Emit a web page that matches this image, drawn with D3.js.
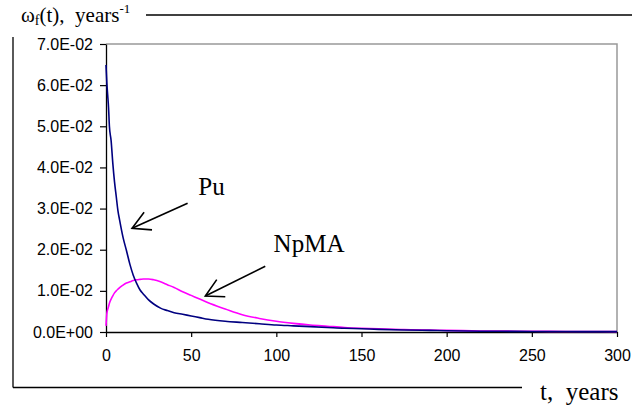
<!DOCTYPE html>
<html>
<head>
<meta charset="utf-8">
<script src="https://cdn.jsdelivr.net/npm/d3@7"></script>
<style>
  html, body { margin: 0; padding: 0; background: #fff; }
  svg { display: block; }
</style>
</head>
<body>
<svg id="chart" width="632" height="410"></svg>
<script>
// ---- data (values in units of 1e-2 per year) ----
const tYears = [0, 0.5, 1, 1.5, 2, 3, 4, 5, 6, 7, 8, 10, 12, 14, 16, 18, 20, 22, 25, 28, 32, 36, 40, 45, 50, 55, 60, 70, 80, 90, 100, 110, 120, 130, 140, 150, 160, 175, 190, 200, 220, 240, 260, 280, 300];
const puValues = [6.49, 6.05, 5.75, 5.45, 5.0, 4.65, 4.1, 3.65, 3.3, 2.95, 2.72, 2.3, 1.98, 1.65, 1.38, 1.18, 1.02, 0.92, 0.78, 0.68, 0.58, 0.52, 0.47, 0.43, 0.39, 0.35, 0.31, 0.26, 0.23, 0.2, 0.17, 0.15, 0.13, 0.11, 0.09, 0.08, 0.065, 0.05, 0.04, 0.03, 0.02, 0.015, 0.012, 0.01, 0.01];
const npmaValues = [0.15, 0.45, 0.55, 0.62, 0.7, 0.8, 0.88, 0.95, 1.0, 1.04, 1.08, 1.14, 1.19, 1.22, 1.25, 1.27, 1.28, 1.29, 1.29, 1.27, 1.22, 1.15, 1.08, 0.98, 0.89, 0.8, 0.71, 0.56, 0.42, 0.33, 0.26, 0.21, 0.17, 0.14, 0.11, 0.09, 0.075, 0.06, 0.045, 0.04, 0.025, 0.02, 0.015, 0.012, 0.01];
const seriesNames = ["Pu", "NpMA"];
const seriesColors = ["#000080", "#ff00ff"];
const yTicks = [0, 0.01, 0.02, 0.03, 0.04, 0.05, 0.06, 0.07];
const xTicks = [0, 50, 100, 150, 200, 250, 300];
// annotations: [label t, label value, arrow tail t, tail value, arrow tip t, tip value]
const puNote = [54.2, 0.0333, 47.9, 0.0313, 15.3, 0.0252];
const npmaNote = [98.4, 0.0195, 93.5, 0.016, 58.3, 0.00875];

const svg = d3.select("#chart");
const plot = { left: 106, right: 617, top: 44, bottom: 332 };
const x = d3.scaleLinear().domain([0, 300]).range([plot.left, plot.right]);
const y = d3.scaleLinear().domain([0, 0.07]).range([plot.bottom, plot.top]);

const fmt = v => {
  const s = v.toExponential(1).toUpperCase();
  return s.replace(/E([+-])(\d)$/, "E$10$2");
};

// outer frame lines
svg.append("line").attr("x1", 13).attr("x2", 13).attr("y1", 37).attr("y2", 387.5)
  .attr("stroke", "#000").attr("stroke-width", 1.3);
svg.append("line").attr("x1", 13).attr("x2", 522).attr("y1", 387.5).attr("y2", 387.5)
  .attr("stroke", "#000").attr("stroke-width", 1.3);
svg.append("line").attr("x1", 146).attr("x2", 632).attr("y1", 15).attr("y2", 15)
  .attr("stroke", "#000").attr("stroke-width", 1.3);

// plot border (top/right gray)
svg.append("path")
  .attr("d", `M${plot.left},${plot.top}H${plot.right}V${plot.bottom}`)
  .attr("fill", "none").attr("stroke", "#999").attr("stroke-width", 1.5);

// axes
const yAxis = svg.append("g").attr("transform", `translate(${plot.left},0)`)
  .call(d3.axisLeft(y).tickValues(yTicks).tickFormat(fmt).tickSize(6).tickSizeOuter(0).tickPadding(7));
const xAxis = svg.append("g").attr("transform", `translate(0,${plot.bottom})`)
  .call(d3.axisBottom(x).tickValues(xTicks).tickFormat(d3.format("d")).tickSize(5).tickSizeOuter(0).tickPadding(13));
[yAxis, xAxis].forEach(g => {
  g.select(".domain").attr("stroke", "#000").attr("stroke-width", 1.3);
  g.selectAll(".tick line").attr("stroke", "#000").attr("stroke-width", 1.2);
  g.selectAll("text").attr("font-family", "Liberation Sans, Arial, sans-serif")
    .attr("font-size", 16).attr("fill", "#000");
});

// series
const series = [puValues, npmaValues];
const line = d3.line().x((d, i) => x(tYears[i])).y(d => y(d / 100)).curve(d3.curveMonotoneX);
[1, 0].forEach(k => {
  svg.append("path").datum(series[k])
    .attr("d", line)
    .attr("fill", "none").attr("stroke", seriesColors[k]).attr("stroke-width", 1.6);
});

// annotations
function note(n, text) {
  svg.append("text").attr("x", x(n[0])).attr("y", y(n[1]))
    .attr("font-family", "Liberation Serif, Times New Roman, serif")
    .attr("font-size", 25).attr("fill", "#000").text(text);
  const x1 = x(n[2]), y1 = y(n[3]), x2 = x(n[4]), y2 = y(n[5]);
  svg.append("line").attr("x1", x1).attr("y1", y1).attr("x2", x2).attr("y2", y2)
    .attr("stroke", "#000").attr("stroke-width", 1.6);
  const ang = Math.atan2(y1 - y2, x1 - x2);
  const L = 20, spread = 0.5;
  const p1 = [x2 + L * Math.cos(ang - spread), y2 + L * Math.sin(ang - spread)];
  const p2 = [x2 + L * Math.cos(ang + spread), y2 + L * Math.sin(ang + spread)];
  svg.append("path").attr("d", `M${p1[0]},${p1[1]}L${x2},${y2}L${p2[0]},${p2[1]}`)
    .attr("fill", "none").attr("stroke", "#000").attr("stroke-width", 1.6);
}
note(puNote, seriesNames[0]);
note(npmaNote, seriesNames[1]);

// axis titles
const yt = svg.append("text").attr("x", 21).attr("y", 22)
  .attr("font-family", "Liberation Serif, Times New Roman, serif")
  .attr("font-size", 21).attr("fill", "#000");
yt.append("tspan").text("ω");
yt.append("tspan").attr("font-size", 14).attr("dy", 3).text("f");
yt.append("tspan").attr("dy", -3).text("(t),\u00a0\u00a0years");
yt.append("tspan").attr("font-size", 13).attr("dy", -9).text("-1");

svg.append("text").attr("x", 540).attr("y", 400)
  .attr("font-family", "Liberation Serif, Times New Roman, serif")
  .attr("font-size", 25).attr("fill", "#000").text("t,\u00a0\u00a0years");
</script>
</body>
</html>
